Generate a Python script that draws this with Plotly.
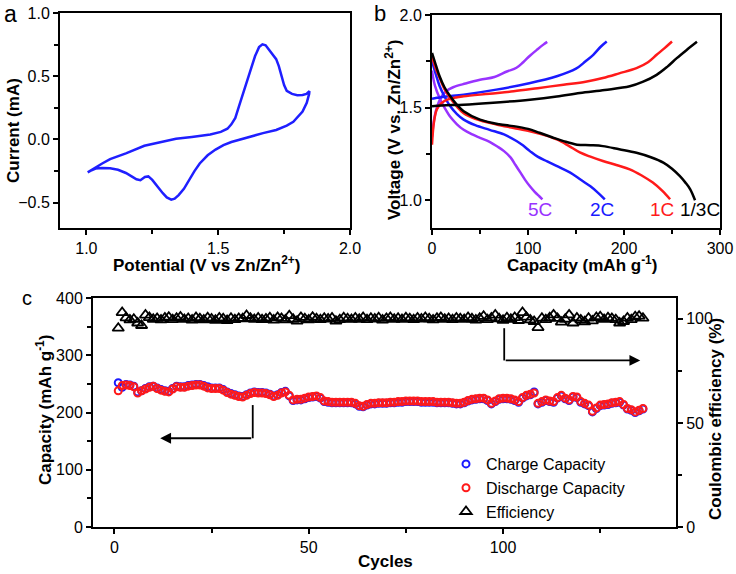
import plotly.graph_objects as go

FONT = "Arial, Liberation Sans, Helvetica, sans-serif"

# ---------------- Panel a: CV ----------------
cv_potential = [1.005, 1.03, 1.06, 1.09, 1.15, 1.22, 1.28, 1.34, 1.40, 1.47, 1.51, 1.535, 1.55, 1.565,
                1.58, 1.60, 1.62, 1.64, 1.655, 1.668, 1.68, 1.695, 1.71, 1.72, 1.73, 1.74, 1.75, 1.76,
                1.78, 1.80, 1.82, 1.835, 1.846,
                1.845, 1.836, 1.82, 1.80, 1.785, 1.76, 1.72, 1.67, 1.62, 1.585, 1.55, 1.52, 1.49,
                1.46, 1.43, 1.41, 1.39, 1.37, 1.35, 1.335, 1.322, 1.305, 1.29, 1.27, 1.25, 1.235,
                1.222, 1.205, 1.19, 1.17, 1.15, 1.12, 1.09, 1.06, 1.035, 1.015, 1.005]
cv_current = [-0.26, -0.225, -0.19, -0.155, -0.11, -0.05, -0.02, 0.005, 0.02, 0.04, 0.06, 0.085, 0.12, 0.17,
              0.27, 0.40, 0.54, 0.66, 0.73, 0.752, 0.745, 0.70, 0.665, 0.635, 0.58, 0.50, 0.43, 0.385,
              0.36, 0.35, 0.352, 0.36, 0.382,
              0.36, 0.29, 0.22, 0.17, 0.14, 0.11, 0.075, 0.05, 0.02, 0.005, -0.02, -0.045, -0.08,
              -0.125, -0.19, -0.25, -0.32, -0.39, -0.44, -0.468, -0.476, -0.458, -0.425, -0.375, -0.32, -0.292,
              -0.297, -0.322, -0.315, -0.29, -0.265, -0.24, -0.228, -0.225, -0.23, -0.248, -0.26]

# ---------------- Panel b: charge/discharge ----------------
q_5c_ch = [0, 2, 5, 10, 15, 22, 35, 50, 65, 78, 88, 95, 102, 110, 116, 120]
v_5c_ch = [1.34, 1.43, 1.50, 1.56, 1.59, 1.61, 1.63, 1.65, 1.665, 1.695, 1.715, 1.745, 1.78, 1.815, 1.84, 1.855]
q_5c_dis = [0, 3, 8, 13, 19, 26, 33, 42, 50, 60, 68, 75, 82, 87, 92, 97, 102, 107, 112, 115]
v_5c_dis = [1.70, 1.62, 1.55, 1.50, 1.45, 1.41, 1.38, 1.355, 1.337, 1.315, 1.29, 1.265, 1.23, 1.19, 1.15,
            1.11, 1.075, 1.045, 1.02, 1.005]
q_2c_ch = [0, 5, 15, 33, 67, 100, 130, 150, 160, 168, 176, 182]
v_2c_ch = [1.547, 1.553, 1.56, 1.57, 1.597, 1.63, 1.669, 1.71, 1.75, 1.785, 1.83, 1.857]
q_2c_dis = [0, 4, 8, 13, 19, 26, 33, 45, 60, 75, 88, 95, 102, 110, 120, 132, 144, 155, 165, 173, 180]
v_2c_dis = [1.75, 1.68, 1.615, 1.56, 1.507, 1.465, 1.435, 1.405, 1.38, 1.355, 1.32, 1.295, 1.265, 1.235,
            1.21, 1.18, 1.149, 1.11, 1.075, 1.04, 1.005]
q_1c_ch = [0, 2, 5, 10, 16, 25, 33, 60, 85, 110, 137, 160, 178, 195, 213, 225, 234, 242, 250]
v_1c_ch = [1.30, 1.42, 1.49, 1.525, 1.543, 1.555, 1.561, 1.575, 1.588, 1.605, 1.624, 1.64, 1.66, 1.685,
           1.713, 1.745, 1.785, 1.82, 1.857]
q_1c_dis = [0, 4, 8, 13, 19, 26, 33, 45, 67, 85, 102, 118, 130, 142, 154, 165, 178, 192, 206, 218, 230, 240, 248]
v_1c_dis = [1.775, 1.71, 1.66, 1.60, 1.552, 1.505, 1.47, 1.44, 1.409, 1.39, 1.372, 1.35, 1.328, 1.295,
            1.258, 1.235, 1.212, 1.19, 1.167, 1.135, 1.095, 1.05, 1.005]
q_3c_ch = [0, 10, 33, 60, 102, 130, 154, 180, 206, 220, 234, 245, 255, 265, 276]
v_3c_ch = [1.507, 1.512, 1.516, 1.525, 1.543, 1.56, 1.579, 1.595, 1.615, 1.64, 1.677, 1.72, 1.767, 1.81, 1.855]
q_3c_dis = [0, 4, 8, 13, 19, 26, 33, 50, 70, 85, 100, 112, 125, 137, 151, 165, 178, 195, 213, 228, 241,
            250, 258, 264, 269, 274]
v_3c_dis = [1.795, 1.73, 1.668, 1.61, 1.561, 1.515, 1.48, 1.435, 1.41, 1.40, 1.385, 1.364, 1.34, 1.319,
            1.30, 1.297, 1.292, 1.275, 1.256, 1.232, 1.203, 1.17, 1.131, 1.095, 1.059, 1.0]

rate_labels = ["5C", "2C", "1C", "1/3C"]
rate_colors = ["#9933ff", "#1a1aff", "#ff1a1a", "#000000"]
label_q = [113, 177, 240, 279]
label_v = [0.95, 0.95, 0.95, 0.95]

# ---------------- Panel c: cycling ----------------
discharge = [238, 247, 248, 247, 245, 234, 238, 241, 244, 246,
             242, 239, 237, 236, 241, 245, 244, 244, 246, 247,
             248, 248, 246, 243, 242, 242, 242, 239, 235, 232,
             230, 228, 227, 230, 233, 235, 234, 234, 233, 231,
             228, 230, 234, 236, 230, 222, 223, 223, 225, 227,
             228, 229, 226, 220, 219, 218, 218, 218, 218, 218,
             218, 216, 212, 211, 214, 216, 216, 217, 217, 217,
             218, 218, 219, 219, 220, 220, 220, 220, 219, 219,
             219, 219, 218, 218, 218, 218, 217, 216, 216, 218,
             221, 223, 224, 225, 225, 222, 216, 220, 224, 225,
             225, 224, 222, 219, 226, 230, 232, 234, 216, 219,
             222, 220, 219, 226, 230, 225, 222, 228, 227, 219,
             216, 213, 202, 208, 213, 214, 215, 217, 218, 219,
             214, 207, 205, 201, 204, 207]
charge = [252, 244, 249, 248, 246, 236, 238, 242, 245, 246,
          243, 240, 238, 237, 242, 246, 245, 245, 247, 248,
          249, 249, 247, 245, 243, 243, 243, 240, 236, 233,
          231, 229, 228, 231, 234, 236, 235, 235, 234, 232,
          229, 231, 235, 237, 229, 221, 222, 222, 224, 226,
          227, 228, 225, 219, 218, 217, 217, 217, 217, 217,
          217, 215, 211, 210, 213, 215, 215, 216, 216, 216,
          217, 217, 218, 218, 219, 219, 219, 219, 218, 218,
          218, 218, 217, 217, 217, 217, 216, 215, 215, 217,
          220, 222, 223, 224, 224, 221, 215, 219, 223, 224,
          224, 223, 221, 218, 225, 229, 231, 236, 215, 218,
          221, 219, 218, 225, 229, 224, 221, 227, 226, 218,
          215, 212, 201, 207, 212, 213, 214, 216, 217, 218,
          213, 206, 204, 200, 203, 206]
efficiency = [95.5, 103.0, 100.5, 99.5, 99.8, 98.0, 96.8, 101.8, 100.6, 99.8,
              100.2, 99.5, 100.4, 100.8, 99.6, 100.3, 100.9, 99.7, 100.2, 99.4,
              100.6, 100.1, 99.5, 100.5, 99.9, 99.3, 100.4, 100.0, 99.2, 100.3,
              99.6, 100.2, 100.0, 101.6, 100.3, 99.7, 100.4, 99.6, 99.9, 100.5,
              99.4, 100.6, 100.2, 99.5, 101.5, 99.8, 98.9, 100.7, 100.0, 99.5,
              100.8, 100.1, 99.6, 100.3, 99.9, 100.4, 98.9, 99.6, 100.5, 100.0,
              99.7, 100.4, 99.8, 100.6, 99.6, 100.3, 99.9, 100.5, 99.4, 100.2,
              100.6, 99.8, 100.3, 99.7, 100.5, 100.1, 99.6, 100.4, 99.9, 100.6,
              100.0, 99.5, 100.3, 100.7, 99.8, 100.2, 99.6, 100.4, 100.1, 99.7,
              100.6, 100.0, 99.4, 100.3, 101.2, 99.6, 100.4, 101.8, 100.0, 99.3,
              100.5, 99.8, 100.6, 99.2, 103.0, 100.8, 99.5, 98.7, 95.8, 100.3,
              99.6, 100.5, 101.9, 100.2, 98.4, 99.8, 101.9, 98.0, 100.4, 99.5,
              98.6, 100.3, 99.0, 100.6, 101.0, 99.7, 100.5, 100.2, 99.6, 98.0,
              98.7, 100.4, 99.6, 101.0, 101.3, 100.3]
cycles = list(range(1, len(discharge) + 1))

fig = go.Figure()

# Panel a
fig.add_trace(go.Scatter(x=cv_potential, y=cv_current, mode="lines",
                         line=dict(color="#1f1fff", width=2.5), xaxis="x", yaxis="y", showlegend=False))

# Panel b
curves = [(q_5c_ch, v_5c_ch, 0), (q_5c_dis, v_5c_dis, 0),
          (q_2c_ch, v_2c_ch, 1), (q_2c_dis, v_2c_dis, 1),
          (q_1c_ch, v_1c_ch, 2), (q_1c_dis, v_1c_dis, 2),
          (q_3c_ch, v_3c_ch, 3), (q_3c_dis, v_3c_dis, 3)]
for q, v, k in curves:
    fig.add_trace(go.Scatter(x=q, y=v, mode="lines", line=dict(color=rate_colors[k], width=2.5, shape="spline"),
                             xaxis="x2", yaxis="y2", showlegend=False))

# Panel c
fig.add_trace(go.Scatter(x=cycles, y=charge, mode="markers", name="Charge Capacity",
                         marker=dict(symbol="circle-open", size=7, color="#1a1aff", line=dict(width=2)),
                         xaxis="x3", yaxis="y3"))
fig.add_trace(go.Scatter(x=cycles, y=discharge, mode="markers", name="Discharge Capacity",
                         marker=dict(symbol="circle-open", size=7, color="#ff1a1a", line=dict(width=2)),
                         xaxis="x3", yaxis="y3"))
fig.add_trace(go.Scatter(x=cycles, y=efficiency, mode="markers", name="Efficiency",
                         marker=dict(symbol="triangle-up-open", size=10, color="#000000", line=dict(width=1.8)),
                         xaxis="x3", yaxis="y4"))

axis_common = dict(showline=True, linecolor="black", linewidth=2, mirror=True, ticks="outside",
                   ticklen=5, tickwidth=1.5, tickcolor="black", showgrid=False, zeroline=False,
                   automargin=False,
                   tickfont=dict(size=16, color="black", family=FONT))
minor_common = dict(ticks="outside", ticklen=4, tickwidth=1.5, tickcolor="black", showgrid=False)

W, H = 736, 574
def dx(a, b):
    return [a / W, b / W]
def dy(top, bottom):
    return [1 - bottom / H, 1 - top / H]

fig.update_layout(
    template="none",
    width=W, height=H, margin=dict(l=0, r=0, t=0, b=0, pad=0),
    paper_bgcolor="white", plot_bgcolor="white",
    font=dict(family=FONT, color="black"),
    xaxis=dict(axis_common, domain=dx(60, 350), range=[0.9, 2.0], tickvals=[1.0, 1.5, 2.0],
               tickformat=".1f", minor=dict(minor_common, tickvals=[1.25, 1.75]), anchor="y"),
    yaxis=dict(axis_common, domain=dy(13, 228), range=[-0.7, 1.0], tickvals=[-0.5, 0.0, 0.5, 1.0],
               tickformat=".1f", minor=dict(minor_common, tickvals=[-0.25, 0.25, 0.75]), anchor="x"),
    xaxis2=dict(axis_common, domain=dx(432, 720), range=[0, 300], tickvals=[0, 100, 200, 300],
                minor=dict(minor_common, tickvals=[50, 150, 250]), anchor="y2"),
    yaxis2=dict(axis_common, domain=dy(15, 228), range=[0.85, 2.0], tickvals=[1.0, 1.5, 2.0],
                tickformat=".1f", minor=dict(minor_common, tickvals=[1.25, 1.75]), anchor="x2"),
    xaxis3=dict(axis_common, domain=dx(93, 676), range=[-5.5, 144.5], tickvals=[0, 50, 100],
                minor=dict(minor_common, tickvals=[25, 75, 125]), anchor="y3"),
    yaxis3=dict(axis_common, domain=dy(298, 527), range=[0, 400], tickvals=[0, 100, 200, 300, 400],
                minor=dict(minor_common, tickvals=[50, 150, 250, 350]), anchor="x3"),
    yaxis4=dict(axis_common, domain=dy(298, 527), range=[0, 110], tickvals=[0, 50, 100], side="right",
                overlaying="y3", anchor="x3", mirror=False,
                minor=dict(minor_common, tickvals=[25, 75])),
    legend=dict(x=446 / W, y=1 - 447 / H, xanchor="left", yanchor="top", bgcolor="rgba(0,0,0,0)",
                font=dict(size=16, family=FONT, color="black"), tracegroupgap=0),
)

ann = []
def title(text, x, y, angle=0, size=17):
    ann.append(dict(text="<b>" + text + "</b>", x=x / W, y=1 - y / H, xref="paper", yref="paper",
                    showarrow=False, textangle=angle, xanchor="center", yanchor="middle",
                    font=dict(size=size, family=FONT, color="black")))

title("Potential (V vs Zn/Zn<sup>2+</sup>)", 206, 264)
title("Current (mA)", 13, 131, -90)
title("Capacity (mAh g<sup>-1</sup>)", 582, 264)
title("Voltage (V vs. Zn/Zn<sup>2+</sup>)", 393, 130, -90)
title("Cycles", 385, 561)
title("Capacity (mAh g<sup>-1</sup>)", 44, 410, -90)
title("Coulombic efficiency (%)", 715, 419, -90)

for lab, x, y, s in [("a", 10, 14, 23), ("b", 380, 13, 22), ("c", 27, 298, 20)]:
    ann.append(dict(text=lab, x=x / W, y=1 - y / H, xref="paper", yref="paper", showarrow=False,
                    xanchor="center", yanchor="middle", font=dict(size=s, family=FONT, color="black")))

for lab, q, v, c in zip(rate_labels, label_q, label_v, rate_colors):
    ann.append(dict(text=lab, x=q, y=v, xref="x2", yref="y2", showarrow=False, xanchor="center",
                    yanchor="middle", font=dict(size=19, family=FONT, color=c)))

# arrows in panel c
ann.append(dict(text="", x=11.8, y=155, xref="x3", yref="y3", ax=35.6, ay=155, axref="x3", ayref="y3",
                showarrow=True, arrowhead=2, arrowsize=1.2, arrowwidth=1.8, arrowcolor="black"))
ann.append(dict(text="", x=135.3, y=80, xref="x3", yref="y4", ax=100.3, ay=80, axref="x3", ayref="y4",
                showarrow=True, arrowhead=2, arrowsize=1.2, arrowwidth=1.8, arrowcolor="black"))
fig.update_layout(annotations=ann)

fig.add_shape(type="line", x0=35.6, x1=35.6, y0=213, y1=155, xref="x3", yref="y3",
              line=dict(color="black", width=1.8))
fig.add_shape(type="line", x0=100.3, x1=100.3, y0=95.5, y1=80, xref="x3", yref="y4",
              line=dict(color="black", width=1.8))

fig.write_html("out.html", config={"displayModeBar": False},
               post_script="document.body.style.margin='0';document.body.style.padding='0';"
                           "document.body.style.overflow='hidden';")
